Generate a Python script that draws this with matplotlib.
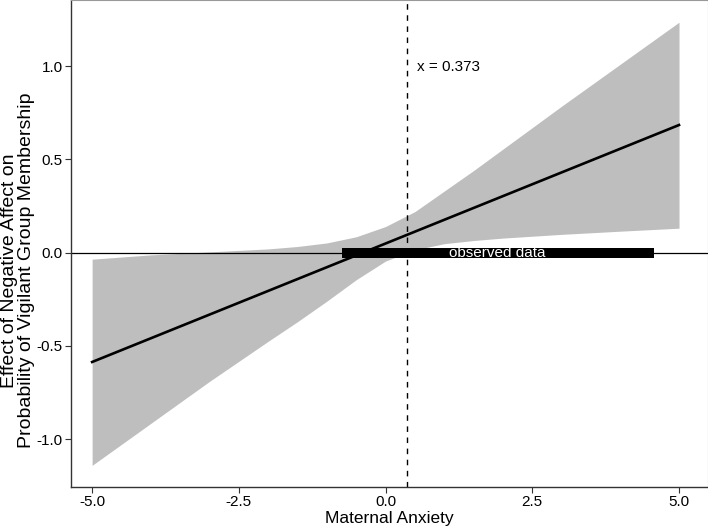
import numpy as np
import matplotlib
matplotlib.use("Agg")
import matplotlib.pyplot as plt

plt.rcParams['font.family'] = ['Liberation Sans', 'DejaVu Sans']
plt.rcParams['axes.unicode_minus'] = False

# confidence band
band_x = [-5, -4, -3, -2, -1.5, -1, -0.5, 0, 0.5, 1, 1.5, 2, 3, 4, 5]
band_lower = [-1.14, -0.915, -0.69, -0.475, -0.37, -0.26, -0.145, -0.045,
              0.015, 0.048, 0.065, 0.078, 0.098, 0.115, 0.131]
band_upper = [-0.035, -0.012, 0.004, 0.02, 0.033, 0.052, 0.085, 0.14,
              0.22, 0.33, 0.44, 0.555, 0.785, 1.01, 1.235]

# simple slope line
line_x = [-5, 5]
line_y = [-0.586, 0.684]

jn_point = 0.373
observed_range = [-0.75, 4.57]

fig = plt.figure(figsize=(7.08, 5.28), dpi=100)
ax = fig.add_axes([71/708, 41/528, 637/708, 487/528])

ax.fill_between(band_x, band_lower, band_upper, color='#bebebe', linewidth=0)
ax.axhline(0, color='black', linewidth=0.9)
ax.plot(line_x, line_y, color='black', linewidth=1.9)
ax.axvline(jn_point, color='black', linewidth=1.0, linestyle=(0, (4, 4)))

ax.barh(0, observed_range[1] - observed_range[0], left=observed_range[0],
        height=0.054, color='black')
ax.text(np.mean(observed_range), 0, 'observed data', color='white',
        ha='center', va='center', fontsize=11)
ax.text(jn_point + 0.17, 0.995, f'x = {jn_point}', ha='left', va='center',
        fontsize=11)

ax.set_xlim(-5.36, 5.494)
ax.set_ylim(-1.256, 1.354)
ax.set_xticks([-5, -2.5, 0, 2.5, 5])
ax.set_xticklabels(['-5.0', '-2.5', '0.0', '2.5', '5.0'])
ax.set_yticks([-1, -0.5, 0, 0.5, 1])
ax.set_yticklabels(['-1.0', '-0.5', '0.0', '0.5', '1.0'])
ax.tick_params(labelsize=11, length=4, width=0.8, colors='#333333',
               labelcolor='black', pad=2)

ax.set_xlabel('Maternal Anxiety', fontsize=12.5, labelpad=1)
ax.set_ylabel('Effect of Negative Affect on\nProbability of Vigilant Group Membership',
              fontsize=14, linespacing=1.0)
ax.yaxis.set_label_coords(-0.056, 0.445)

for s in ['left', 'bottom']:
    ax.spines[s].set_color('#333333')
    ax.spines[s].set_linewidth(1.0)
for s in ['top', 'right']:
    ax.spines[s].set_color('#999999')
    ax.spines[s].set_linewidth(0.8)

fig.savefig('out.png', dpi=100)
